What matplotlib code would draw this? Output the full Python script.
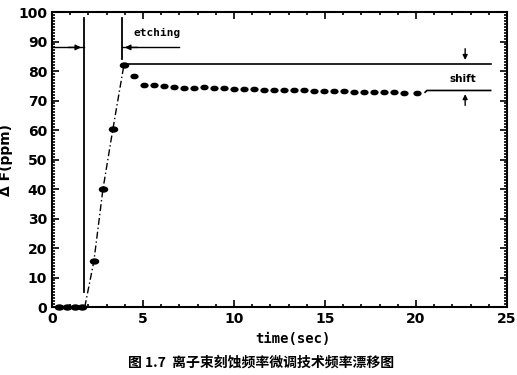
import matplotlib
matplotlib.use("Agg")
import matplotlib.pyplot as plt
from matplotlib.ticker import MultipleLocator
from matplotlib.markers import MarkerStyle
from matplotlib.transforms import Affine2D

plt.rcParams['font.family'] = ['DejaVu Sans', 'Noto Sans CJK SC']

# data
t_base = [0.4, 0.85, 1.25, 1.65]
f_base = [0, 0, 0, 0]
t_rise = [1.8, 2.3, 2.8, 3.35, 3.95]
f_rise = [0, 15.5, 40, 60.5, 82]
t_plat = [4.5, 5.05, 5.6, 6.15, 6.7, 7.25, 7.8, 8.35, 8.9, 9.45, 10.0, 10.55,
          11.1, 11.65, 12.2, 12.75, 13.3, 13.85, 14.4, 14.95, 15.5, 16.05,
          16.6, 17.15, 17.7, 18.25, 18.8, 19.35, 20.05]
f_plat = [78.3, 75.2, 75.1, 74.8, 74.7, 74.3, 74.3, 74.5, 74.3, 74.2, 74.0,
          73.8, 73.8, 73.6, 73.6, 73.5, 73.4, 73.5, 73.2, 73.3, 73.1, 73.2,
          73.0, 73.0, 72.9, 72.8, 72.8, 72.7, 72.6]
etch_start = 1.75
etch_end = 3.85
upper_level = 82.5
lower_level = 73.4
x_ticks = [0, 5, 10, 15, 20, 25]
y_ticks = [0, 10, 20, 30, 40, 50, 60, 70, 80, 90, 100]

fig = plt.figure(figsize=(5.17, 3.75), dpi=100)
ax = fig.add_axes([0.1006, 0.1813, 0.8801, 0.7867])

mk = MarkerStyle('o', transform=Affine2D().scale(1.3, 0.8))

ax.plot(t_rise, f_rise, linestyle=(0, (5, 2, 1, 2)), color='black', lw=1)
ax.plot(t_base, f_base, linestyle='none', marker=mk, color='black', ms=4.5,
        clip_on=False, zorder=4)
ax.plot(t_rise[1:], f_rise[1:], linestyle='none', marker=mk, color='black', ms=4.5)
ax.plot(t_plat, f_plat, linestyle='none', marker=mk, color='black', ms=3.8)

# etching markers
ax.plot([etch_start, etch_start], [5, 98], color='black', lw=1.3)
ax.plot([etch_end, etch_end], [84, 98], color='black', lw=1.3)
ax.plot([0, etch_start], [88, 88], color='black', lw=1)
ax.annotate('', xy=(etch_start, 88), xytext=(etch_start - 1.0, 88),
            arrowprops=dict(arrowstyle='-|>', color='black', lw=1, mutation_scale=8))
ax.plot([etch_end, 7.0], [88, 88], color='black', lw=1)
ax.annotate('', xy=(etch_end, 88), xytext=(etch_end + 1.0, 88),
            arrowprops=dict(arrowstyle='-|>', color='black', lw=1, mutation_scale=8))
ax.text(5.75, 91.3, 'etching', fontsize=8, fontweight='bold', family='DejaVu Sans Mono',
        ha='center', va='bottom')

# shift lines
ax.plot([4.1, 24.1], [upper_level, upper_level], color='black', lw=1.2)
ax.plot([20.5, 20.6, 24.1], [lower_level - 0.6, lower_level, lower_level], color='black', lw=1.2)
ax.annotate('', xy=(22.7, upper_level + 0.3), xytext=(22.7, upper_level + 6),
            arrowprops=dict(arrowstyle='-|>', color='black', lw=1, mutation_scale=7))
ax.annotate('', xy=(22.7, lower_level - 0.3), xytext=(22.7, lower_level - 6),
            arrowprops=dict(arrowstyle='-|>', color='black', lw=1, mutation_scale=7))
ax.text(22.6, 75.6, 'shift', fontsize=7.5, fontweight='bold', ha='center', va='bottom')

ax.set_xlim(0, 25)
ax.set_ylim(0, 100)
ax.set_xticks(x_ticks)
ax.set_yticks(y_ticks)
ax.xaxis.set_minor_locator(MultipleLocator(1))
ax.yaxis.set_minor_locator(MultipleLocator(1))
ax.tick_params(which='both', direction='in', top=True, right=True, width=1.2)
ax.tick_params(which='major', length=5, labelsize=10)
ax.tick_params(which='minor', length=2.5)
for lab in ax.get_xticklabels() + ax.get_yticklabels():
    lab.set_fontweight('bold')
for s in ax.spines.values():
    s.set_linewidth(1.5)

ax.set_xlabel('time(sec)', fontsize=10, fontweight='bold', family='DejaVu Sans Mono', labelpad=3)
ax.xaxis.set_label_coords(0.53, -0.085)
ax.set_ylabel('Δ F(ppm)', fontsize=10, fontweight='bold', labelpad=4)

fig.text(0.505, 0.032, '图 1.7  离子束刻蚀频率微调技术频率漂移图', fontsize=10,
         fontweight='bold', family=['Noto Sans CJK SC', 'DejaVu Sans'], ha='center', va='center')

fig.savefig('out.png', dpi=100)
